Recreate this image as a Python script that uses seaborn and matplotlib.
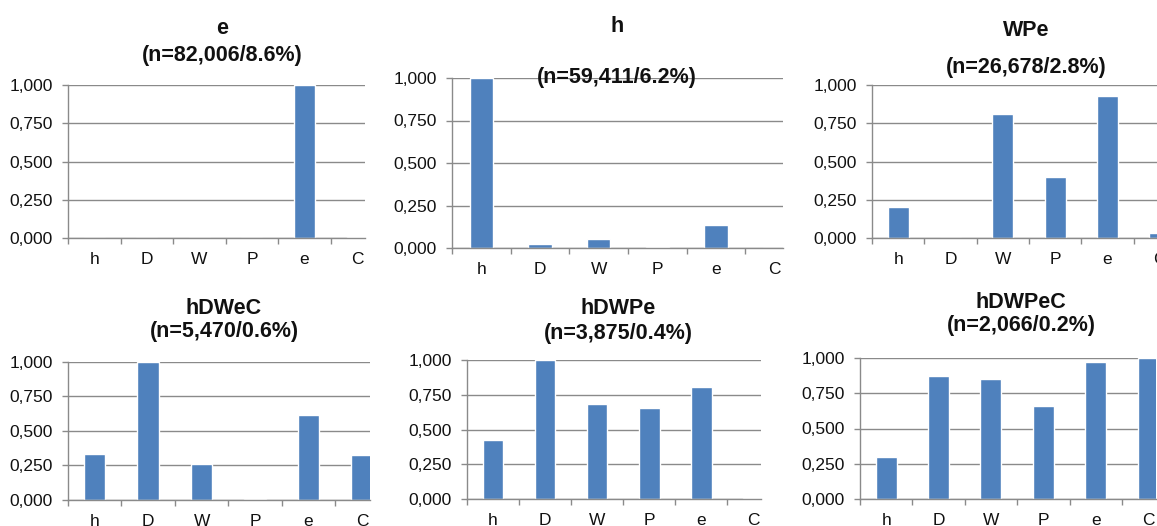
import matplotlib
matplotlib.use('Agg')
import matplotlib.pyplot as plt
from matplotlib.ticker import FuncFormatter, FixedLocator
import seaborn as sns
import pandas as pd

categories = ['h', 'D', 'W', 'P', 'e', 'C']

e_vals = [0.0, 0.0, 0.0, 0.0, 1.0, 0.006]
h_vals = [1.0, 0.022, 0.053, 0.006, 0.135, 0.0]
wpe_vals = [0.20, 0.0, 0.808, 0.40, 0.928, 0.035]
hdwec_vals = [0.333, 1.0, 0.26, 0.01, 0.612, 0.325]
hdwpe_vals = [0.426, 1.0, 0.684, 0.653, 0.806, 0.006]
hdwpec_vals = [0.30, 0.872, 0.851, 0.661, 0.967, 1.0]

titles = ['e', 'h', 'WPe', 'hDWeC', 'hDWPe', 'hDWPeC']
subtitles = ['(n=82,006/8.6%)', '(n=59,411/6.2%)', '(n=26,678/2.8%)',
             '(n=5,470/0.6%)', '(n=3,875/0.4%)', '(n=2,066/0.2%)']
yticks = [0.0, 0.25, 0.5, 0.75, 1.0]

sns.set_theme(style='white')
plt.rcParams['font.family'] = ['Liberation Sans', 'DejaVu Sans']

W, H = 1157, 526
BLUE = '#4f81bd'
GRID = '#8a8a8a'

# pixel layout of each panel: left, right, top, bottom, xmax, title y, subtitle y, title x
panels = [
    (68, 365, 85, 238, 5.15, 28, 56, 222),
    (452, 783, 78, 248, 5.14, 27, 77, 617),
    (872, 1167.5, 85, 238, 5.15, 31, 67, 1026),
    (68, 370, 361.7, 500, 5.15, 309, 332, 224),
    (467, 761, 360, 499.3, 5.15, 308, 333, 618),
    (860, 1156, 357.7, 499.3, 5.15, 303, 326, 1021),
]
series = [e_vals, h_vals, wpe_vals, hdwec_vals, hdwpe_vals, hdwpec_vals]

fig = plt.figure(figsize=(W / 100, H / 100), dpi=100)

for (l, r, t, b, xmax, ty, sy, tx), vals, title, sub in zip(panels, series, titles, subtitles):
    ax = fig.add_axes([l / W, 1 - b / H, (r - l) / W, (b - t) / H])
    df = pd.DataFrame({'cat': categories, 'val': vals})
    sns.barplot(data=df, x='cat', y='val', order=categories, color=BLUE,
                saturation=1, width=0.4, ax=ax)
    ax.set_xlim(-0.5, xmax)
    ax.set_ylim(0, 1.0)
    ax.set_yticks(yticks)
    ax.yaxis.set_major_formatter(FuncFormatter(lambda v, p: f"{v:.3f}".replace('.', ',')))
    ax.set_xlabel('')
    ax.set_ylabel('')
    ax.set_axisbelow(True)
    ax.grid(axis='y', color=GRID, linewidth=1.0)
    ax.grid(axis='x', visible=False)
    for side in ['top', 'right']:
        ax.spines[side].set_visible(False)
    for side in ['left', 'bottom']:
        ax.spines[side].set_color(GRID)
        ax.spines[side].set_linewidth(1.0)
    ax.xaxis.set_minor_locator(FixedLocator([i - 0.5 for i in range(7)]))
    ax.tick_params(axis='x', which='major', length=0, pad=10, labelsize=12.5, colors='#111111')
    ax.tick_params(axis='x', which='minor', length=4, width=1, color=GRID, bottom=True)
    ax.tick_params(axis='y', which='major', length=4, width=1, color=GRID, pad=7,
                   labelsize=12.5, labelcolor='#111111', left=True)
    fig.text(tx / W, 1 - ty / H, title, ha='center', va='center',
             fontsize=15.5, fontweight='bold', color='#111111')
    fig.text(tx / W, 1 - sy / H, sub, ha='center', va='center',
             fontsize=15.5, fontweight='bold', color='#111111')

fig.savefig('out.png', dpi=100)
